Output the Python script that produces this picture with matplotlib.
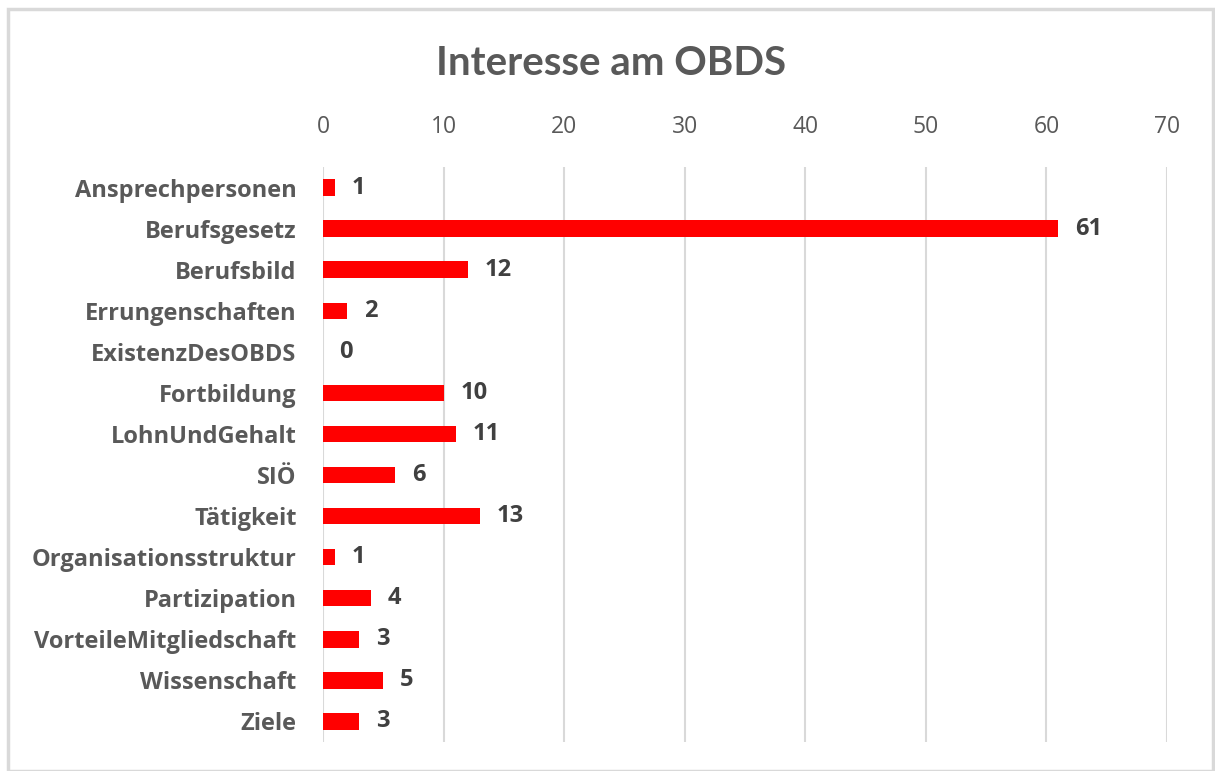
import matplotlib
matplotlib.use("Agg")
import matplotlib.pyplot as plt
from matplotlib.patches import Rectangle

categories = ["Ansprechpersonen", "Berufsgesetz", "Berufsbild", "Errungenschaften",
              "ExistenzDesOBDS", "Fortbildung", "LohnUndGehalt", "SIÖ", "Tätigkeit",
              "Organisationsstruktur", "Partizipation", "VorteileMitgliedschaft",
              "Wissenschaft", "Ziele"]
values = [1, 61, 12, 2, 0, 10, 11, 6, 13, 1, 4, 3, 5, 3]
x_ticks = [0, 10, 20, 30, 40, 50, 60, 70]

plt.rcParams["font.family"] = ["Open Sans", "DejaVu Sans"]

fig = plt.figure(figsize=(12.15, 7.71), dpi=100)
ax = fig.add_axes([0.2658, 0.0376, 0.6947, 0.7458])

y = list(range(len(categories)))
ax.barh(y, values, height=0.4, color="#ff0000", zorder=3)

# value labels to the right of each bar
for yi, v in zip(y, values):
    ax.annotate(str(v), (v, yi), xytext=(12, 0), textcoords="offset points",
                va="center", ha="left", fontsize=17, fontweight="bold", color="#404040")

ax.set_xlim(0, 70)
ax.set_ylim(len(categories) - 0.5, -0.5)
ax.set_xticks(x_ticks)
ax.set_yticks(y)
ax.set_yticklabels(categories, fontsize=17, fontweight="bold", color="#595959")
ax.xaxis.tick_top()
ax.tick_params(axis="x", length=0, pad=20, labelsize=16.5, labelcolor="#595959")
ax.tick_params(axis="y", length=0, pad=19)
ax.grid(axis="x", color="#d9d9d9", linewidth=1.5, zorder=0)
for s in ax.spines.values():
    s.set_visible(False)

fig.text(0.503, 0.918, "Interesse am OBDS", ha="center", va="center",
         fontsize=29, fontweight="bold", color="#595959", family=["Lato", "DejaVu Sans"])

fig.patches.append(Rectangle((8 / 1215, 0), 1205 / 1215, 762 / 771,
                             transform=fig.transFigure, fill=False,
                             edgecolor="#d9d9d9", linewidth=2.5))

fig.savefig("out.png", dpi=100)
